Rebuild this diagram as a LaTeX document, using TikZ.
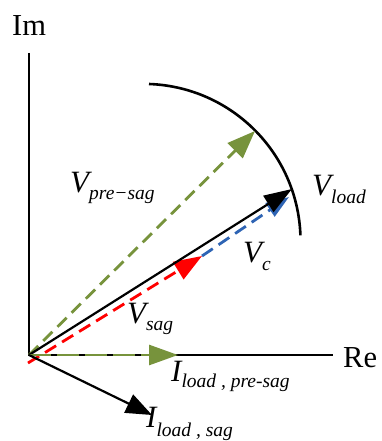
\documentclass[tikz,border=0pt]{standalone}
\usepackage{fontspec}
\setmainfont{Liberation Serif}
\usetikzlibrary{arrows.meta}
\definecolor{vgreen}{RGB}{119,147,60}
\definecolor{vred}{RGB}{255,0,0}
\definecolor{vblue}{RGB}{46,100,180}
\newcommand{\bigf}{\fontsize{31}{33}\selectfont}
\newcommand{\axf}{\fontsize{30.5}{33}\selectfont}
\newcommand{\smallf}{\fontsize{19.5}{21}\selectfont\itshape}
\newcommand{\mysub}[2][7.5pt]{\raisebox{-#1}{\smallf #2}}
\begin{document}
\begin{tikzpicture}[x=1pt,y=-1pt,
  axis/.style={line width=2pt,black},
  vec/.style={line width=2.2pt},
  dvec/.style={line width=2.8pt,dash pattern=on 13pt off 7pt},
  lbl/.style={inner sep=0pt,font=\bigf},
]
\useasboundingbox (0,0) rectangle (381,441);
% coordinates
\coordinate (O) at (29,355);
\coordinate (imtop) at (29,53);
\coordinate (reend) at (333,355);
\coordinate (vload) at (292,189);
\coordinate (vpre) at (255,131);
\coordinate (rs) at (28,363);
\coordinate (vsag) at (202,256);
\coordinate (vc) at (289,197);
\coordinate (ipre) at (178,355);
\coordinate (isag) at (152,415);
% axes
\draw[axis] (imtop) -- (O) -- (reend);
\node[inner sep=0pt,font=\axf,anchor=base west] (im) at (12,36) {Im};
\node[inner sep=0pt,font=\axf,anchor=base west] (re) at (343,367) {Re};
% arc
\draw[line width=2.6pt] (149,84) arc[start angle=-88,end angle=-2,radius=157];
% V pre-sag
\draw[dvec,vgreen,-{Triangle[length=28pt,width=21pt]}] (O) -- (vpre);
% V sag
\draw[dvec,vred,-{Triangle[length=28pt,width=20pt]}] (rs) -- (vsag);
% V c
\draw[dvec,vblue,-{Triangle[length=23pt,width=16pt]}] (vsag) -- (vc);
% V load
\draw[vec,-{Triangle[length=28pt,width=19pt]}] (O) -- (vload);
% I pre-sag
\draw[line width=2.8pt,vgreen,dash pattern=on 22pt off 6pt,-{Triangle[length=29pt,width=20pt]}] (O) -- (ipre);
% I sag
\draw[vec,-{Triangle[length=26pt,width=20pt]}] (O) -- (isag);
% labels
\node[lbl,anchor=base west] (lpre) at (70,192) {\itshape V\mysub[7pt]{pre−sag}};
\node[lbl,anchor=base west] (lload) at (312,195) {\itshape V\mysub[8pt]{load}};
\node[lbl,anchor=base west] (lc) at (243,262) {\itshape V\mysub[8pt]{c}};
\node[lbl,anchor=base west] (lsag) at (127,323) {\itshape V\mysub[7pt]{sag}};
\node[lbl,anchor=base west] (lipre) at (171,381) {\itshape I\mysub[6pt]{load , pre-sag}};
\node[lbl,anchor=base west] (lisag) at (146,427) {\itshape I\mysub[9pt]{load , sag}};
\end{tikzpicture}
\end{document}
